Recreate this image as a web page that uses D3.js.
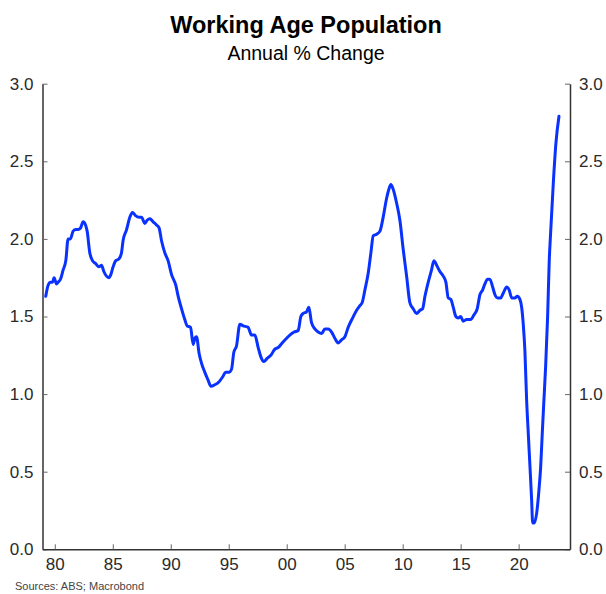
<!DOCTYPE html>
<html><head><meta charset="utf-8">
<script src="https://cdn.jsdelivr.net/npm/d3@7"></script>
<style>
html,body{margin:0;padding:0;background:#fff;}
svg{display:block;font-family:"Liberation Sans",Arial,sans-serif;}
</style></head>
<body>
<svg id="chart" width="606" height="594"></svg>
<script>
const title = "Working Age Population";
const subtitle = "Annual % Change";
const source = "Sources: ABS; Macrobond";
const xTickYears = [1980,1985,1990,1995,2000,2005,2010,2015,2020];
const xTickLabels = ["80","85","90","95","00","05","10","15","20"];
const yTicks = [0,0.5,1.0,1.5,2.0,2.5,3.0];
const years = [1979.22,1979.42,1979.63,1979.80,1979.94,1980.15,1980.28,1980.49,1980.72,1980.95,1981.15,1981.35,1981.58,1981.81,1982.01,1982.22,1982.44,1982.65,1982.79,1983.02,1983.25,1983.54,1983.80,1984.03,1984.23,1984.46,1984.66,1984.83,1985.03,1985.26,1985.52,1985.75,1985.89,1986.19,1986.47,1986.70,1986.96,1987.27,1987.48,1987.76,1987.96,1988.20,1988.48,1988.77,1989.00,1989.20,1989.49,1989.77,1990.07,1990.44,1990.64,1990.93,1991.21,1991.41,1991.71,1991.93,1992.08,1992.22,1992.45,1992.65,1992.94,1993.22,1993.46,1993.80,1994.17,1994.47,1994.72,1995.01,1995.24,1995.44,1995.67,1995.96,1996.24,1996.67,1996.97,1997.25,1997.54,1997.77,1998.03,1998.31,1998.63,1998.98,1999.26,1999.61,1999.99,2000.27,2000.64,2000.99,2001.22,2001.42,2001.71,2001.91,2002.14,2002.43,2002.71,2003.01,2003.29,2003.58,2003.87,2004.15,2004.44,2004.73,2005.02,2005.30,2005.68,2006.03,2006.31,2006.51,2006.74,2007.03,2007.26,2007.46,2007.75,2008.04,2008.32,2008.61,2008.81,2008.98,2009.18,2009.48,2009.76,2010.05,2010.34,2010.62,2010.91,2011.20,2011.49,2011.72,2011.92,2012.20,2012.49,2012.69,2012.93,2013.21,2013.50,2013.73,2013.93,2014.16,2014.36,2014.59,2014.79,2015.00,2015.22,2015.51,2015.86,2016.14,2016.43,2016.66,2016.89,2017.09,2017.33,2017.52,2017.76,2017.96,2018.19,2018.45,2018.67,2018.97,2019.19,2019.40,2019.68,2019.88,2020.11,2020.26,2020.40,2020.54,2020.69,2020.83,2020.98,2021.12,2021.21,2021.35,2021.55,2021.75,2021.90,2022.04,2022.18,2022.33,2022.50,2022.64,2022.76,2022.99,2023.22,2023.48];
const values = [1.63,1.70,1.72,1.72,1.75,1.71,1.72,1.74,1.80,1.86,2.00,2.00,2.05,2.06,2.06,2.07,2.11,2.09,2.05,1.91,1.86,1.84,1.82,1.83,1.79,1.76,1.75,1.77,1.82,1.86,1.87,1.91,1.99,2.06,2.14,2.17,2.15,2.14,2.14,2.10,2.12,2.13,2.11,2.09,2.07,1.99,1.91,1.86,1.77,1.70,1.63,1.55,1.48,1.44,1.43,1.32,1.36,1.37,1.26,1.20,1.14,1.09,1.05,1.06,1.08,1.11,1.14,1.14,1.16,1.27,1.31,1.45,1.44,1.43,1.38,1.38,1.30,1.24,1.21,1.23,1.25,1.29,1.30,1.33,1.36,1.38,1.40,1.41,1.50,1.52,1.53,1.56,1.46,1.42,1.40,1.39,1.42,1.42,1.40,1.36,1.33,1.35,1.37,1.43,1.49,1.54,1.57,1.59,1.67,1.78,1.91,2.02,2.03,2.05,2.14,2.26,2.32,2.35,2.32,2.23,2.12,1.93,1.76,1.59,1.55,1.52,1.54,1.55,1.63,1.72,1.80,1.86,1.83,1.79,1.76,1.72,1.62,1.61,1.56,1.50,1.49,1.50,1.47,1.48,1.48,1.51,1.55,1.64,1.67,1.71,1.74,1.74,1.69,1.64,1.62,1.62,1.65,1.69,1.67,1.62,1.62,1.63,1.61,1.56,1.45,1.28,0.96,0.75,0.53,0.32,0.17,0.17,0.23,0.38,0.53,0.75,0.96,1.18,1.50,1.86,2.04,2.36,2.62,2.79];

const svg = d3.select("#chart");
const pL = 42.5, pR = 570, pT = 83.7, pB = 549.3;
const x = d3.scaleLinear().domain([1978.94, 2024.43]).range([pL, pR]);
const y = d3.scaleLinear().domain([0, 3]).range([pB, pT]);
const axisCol = "#333", tickCol = "#666", textCol = "#2a2a2a";

svg.append("text").attr("x", 306).attr("y", 33).attr("text-anchor", "middle")
  .attr("font-size", 23.5).attr("font-weight", "bold").attr("fill", "#000").text(title);
svg.append("text").attr("x", 306).attr("y", 59.5).attr("text-anchor", "middle")
  .attr("font-size", 19.5).attr("fill", "#000").text(subtitle);

const yl = d3.axisLeft(y).tickValues(yTicks).tickFormat(d3.format(".1f")).tickSizeInner(-5).tickSizeOuter(0).tickPadding(9);
const gL = svg.append("g").attr("transform", `translate(${pL},0)`).call(yl);
const yr = d3.axisRight(y).tickValues(yTicks).tickFormat(d3.format(".1f")).tickSizeInner(-5).tickSizeOuter(0).tickPadding(9);
const gR = svg.append("g").attr("transform", `translate(${pR},0)`).call(yr);
const xb = d3.axisBottom(x).tickValues(xTickYears).tickFormat((d,i) => xTickLabels[i]).tickSizeInner(-5).tickSizeOuter(0).tickPadding(9);
const gB = svg.append("g").attr("transform", `translate(0,${pB})`).call(xb);

[gL, gR, gB].forEach(g => {
  g.select(".domain").attr("stroke", axisCol).attr("stroke-width", 1.5);
  g.selectAll(".tick line").attr("stroke", tickCol).attr("stroke-width", 1);
  g.selectAll(".tick text").attr("fill", textCol).attr("font-size", 17)
    .attr("font-family", "'Liberation Sans', Arial, sans-serif");
});
gB.selectAll(".tick text").attr("dy", "0.71em").attr("y", 9);

const data = years.map((yv, i) => [yv, values[i]]);
svg.append("path").datum(data)
  .attr("fill", "none").attr("stroke", "#0a32ff").attr("stroke-width", 3)
  .attr("stroke-linejoin", "round").attr("stroke-linecap", "round")
  .attr("d", d3.line().x(d => x(d[0])).y(d => y(d[1])).curve(d3.curveMonotoneX));

svg.append("text").attr("x", 15).attr("y", 590).attr("font-size", 11).attr("fill", "#444").text(source);
</script>
</body></html>
